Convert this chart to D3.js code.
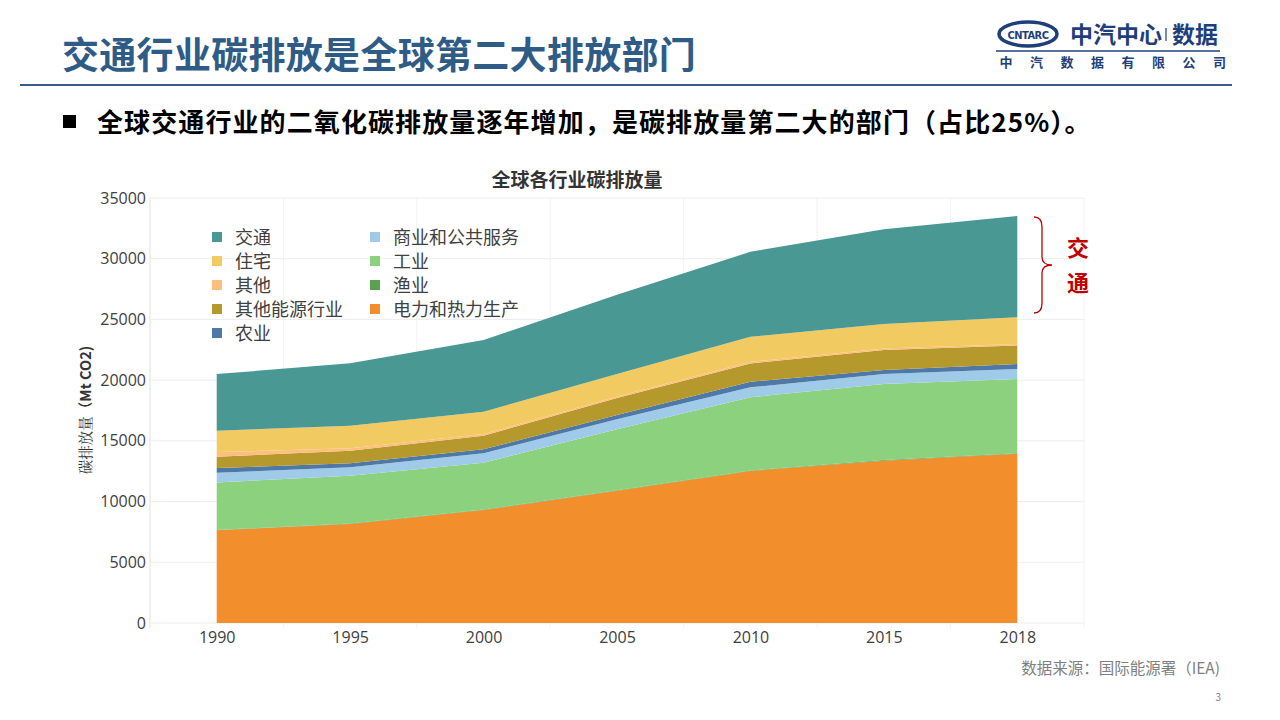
<!DOCTYPE html>
<html><head><meta charset="utf-8">
<script src="https://cdn.jsdelivr.net/npm/d3@7/dist/d3.min.js"></script>
<style>
html,body{margin:0;padding:0;background:#fff;}
svg{display:block;font-family:"Noto Sans CJK SC","Noto Sans",sans-serif;}
</style></head>
<body>
<svg id="c" width="1280" height="720"></svg>
<script>
const years = ["1990","1995","2000","2005","2010","2015","2018"];
const yTicks = [0,5000,10000,15000,20000,25000,30000,35000];
// stack order bottom -> top
const power       = [7630, 8150, 9300, 10900, 12520, 13370, 13940];
const fishery     = [30, 35, 40, 40, 45, 45, 45];
const industry    = [3920, 3945, 3860, 5020, 6025, 6275, 6105];
const commercial  = [790, 690, 770, 820, 820, 820, 820];
const agriculture = [390, 330, 330, 350, 460, 330, 410];
const otherEnergy = [930, 1040, 1120, 1400, 1510, 1650, 1540];
const other       = [390, 200, 140, 120, 130, 110, 110];
const residential = [1750, 1860, 1840, 1850, 2060, 2030, 2200];
const transport   = [4670, 5140, 5900, 6530, 7000, 7800, 8340];

const seriesNames = ["电力和热力生产","渔业","工业","商业和公共服务","农业","其他能源行业","其他","住宅","交通"];
const seriesVals = [power,fishery,industry,commercial,agriculture,otherEnergy,other,residential,transport];
const colors = ["#F28E2B","#59A14F","#8CD17D","#A0CBE8","#4E79A7","#B6992D","#FFBE7D","#F1CA62","#499894"];
const legendOrder = ["交通","住宅","其他","其他能源行业","农业","商业和公共服务","工业","渔业","电力和热力生产"];

const svg = d3.select("#c");

// Header
svg.append("text").attr("x",62).attr("y",69).attr("font-size",37).attr("font-weight","bold")
  .attr("letter-spacing",0.3).attr("fill","#2E5C87").text("交通行业碳排放是全球第二大排放部门");
svg.append("line").attr("x1",20).attr("x2",1232).attr("y1",85).attr("y2",85)
  .attr("stroke","#3D5A8E").attr("stroke-width",2);

// Logo
const lg = svg.append("g");
lg.append("ellipse").attr("cx",1028).attr("cy",34).attr("rx",29).attr("ry",12)
  .attr("fill","none").attr("stroke","#1E3F7A").attr("stroke-width",3.5);
lg.append("text").attr("x",1028).attr("y",38.5).attr("text-anchor","middle").attr("font-size",11)
  .attr("font-weight","bold").attr("fill","#1E3F7A").attr("font-family","DejaVu Sans Condensed, sans-serif")
  .attr("letter-spacing",-0.5).text("CNTARC");
lg.append("text").attr("x",1070).attr("y",43).attr("font-size",23).attr("font-weight","bold")
  .attr("fill","#1E3F7A").text("中汽中心");
lg.append("line").attr("x1",1166).attr("x2",1166).attr("y1",28).attr("y2",41).attr("stroke","#1E3F7A").attr("stroke-width",1.2);
lg.append("text").attr("x",1172).attr("y",43).attr("font-size",23).attr("font-weight","bold")
  .attr("fill","#1E3F7A").text("数据");
lg.append("line").attr("x1",996).attr("x2",1220).attr("y1",51).attr("y2",51).attr("stroke","#1E3F7A").attr("stroke-width",1.5);
const co = "中汽数据有限公司".split("");
co.forEach((ch,i)=>{
  lg.append("text").attr("x",1006+i*30.5).attr("y",67).attr("text-anchor","middle").attr("font-size",13)
    .attr("font-weight","bold").attr("fill","#1E3F7A").text(ch);
});

// Subtitle
svg.append("rect").attr("x",63).attr("y",115).attr("width",13).attr("height",13).attr("fill","#000");
svg.append("text").attr("x",97).attr("y",132).attr("font-size",26).attr("font-weight","bold")
  .attr("letter-spacing",1.1).attr("fill","#000").text("全球交通行业的二氧化碳排放量逐年增加，是碳排放量第二大的部门（占比25%）。");

// Chart title
svg.append("text").attr("x",577).attr("y",187).attr("text-anchor","middle").attr("font-size",19)
  .attr("font-weight","bold").attr("fill","#333").text("全球各行业碳排放量");

// Scales
const x = d3.scalePoint().domain(years).range([150,1084]).padding(0.5);
const y = d3.scaleLinear().domain([0,35000]).range([623,198]);
const step = x.step();

// Grid
const grid = svg.append("g");
yTicks.forEach(t=>{
  grid.append("line").attr("x1",150).attr("x2",1084).attr("y1",y(t)).attr("y2",y(t))
    .attr("stroke","#EDEDED").attr("stroke-width",1);
});
for(let i=0;i<=years.length;i++){
  const xv = 150 + i*step;
  grid.append("line").attr("x1",xv).attr("x2",xv).attr("y1",198).attr("y2",628)
    .attr("stroke","#F2F2F2").attr("stroke-width",1);
}
grid.append("line").attr("x1",150).attr("x2",150).attr("y1",198).attr("y2",628).attr("stroke","#E6E6E6");

// Stack
const rows = years.map((yr,i)=>{
  const o = {year:yr};
  seriesNames.forEach((n,k)=>o[n]=seriesVals[k][i]);
  return o;
});
const stack = d3.stack().keys(seriesNames)(rows);
const area = d3.area().x(d=>x(d.data.year)).y0(d=>y(d[0])).y1(d=>y(d[1]));
svg.append("g").selectAll("path").data(stack).join("path")
  .attr("d",area).attr("fill",(d,i)=>colors[i]);

// Axes
const yAxis = svg.append("g").attr("transform","translate(146,0)")
  .call(d3.axisLeft(y).tickValues(yTicks).tickSize(0).tickPadding(0).tickFormat(d3.format("d")));
yAxis.select(".domain").remove();
yAxis.selectAll("text").attr("font-size",16).attr("fill","#404040").attr("font-family","Open Sans, Noto Sans, sans-serif");

const xAxis = svg.append("g").attr("transform","translate(0,623)")
  .call(d3.axisBottom(x).tickSize(0).tickPadding(9));
xAxis.select(".domain").remove();
xAxis.selectAll("text").attr("font-size",16).attr("fill","#404040").attr("font-family","Open Sans, Noto Sans, sans-serif");

// Y label
const yl = svg.append("text").attr("transform","translate(91,410) rotate(-90)")
  .attr("text-anchor","middle").attr("font-size",14.5).attr("fill","#333");
yl.append("tspan").attr("font-family","Noto Serif CJK SC, serif").text("碳排放量");
yl.append("tspan").attr("font-weight","bold").text("（Mt CO2)");

// Legend
const leg = svg.append("g");
legendOrder.forEach((n,i)=>{
  const col = i<5?0:1, row = i<5?i:i-5;
  const lx = col===0?217:375, ly = 237+row*24;
  const ci = seriesNames.indexOf(n);
  leg.append("rect").attr("x",lx-5).attr("y",ly-5).attr("width",10).attr("height",10).attr("fill",colors[ci]);
  leg.append("text").attr("x",lx+18).attr("y",ly+6.5).attr("font-size",18).attr("fill","#404040").text(n);
});

// Brace
const bx = 1034, by0 = 217, by1 = 313, bm = (by0+by1)/2;
svg.append("path").attr("d",
  `M${bx},${by0} Q${bx+8},${by0} ${bx+8},${by0+10} L${bx+8},${bm-8} Q${bx+8},${bm} ${bx+18},${bm} Q${bx+8},${bm} ${bx+8},${bm+8} L${bx+8},${by1-10} Q${bx+8},${by1} ${bx},${by1}`)
  .attr("fill","none").attr("stroke","#C00000").attr("stroke-width",1.3);
svg.append("text").attr("x",1078).attr("y",256).attr("text-anchor","middle").attr("font-size",22)
  .attr("font-weight","bold").attr("fill","#C00000").text("交");
svg.append("text").attr("x",1078).attr("y",291).attr("text-anchor","middle").attr("font-size",22)
  .attr("font-weight","bold").attr("fill","#C00000").text("通");

// Source
svg.append("text").attr("x",1220).attr("y",674).attr("text-anchor","end").attr("font-size",15.5)
  .attr("fill","#7F7F7F").text("数据来源：国际能源署（IEA)");
svg.append("text").attr("x",1221).attr("y",701).attr("text-anchor","end").attr("font-size",10)
  .attr("fill","#7F7F7F").text("3");
</script>
</body></html>
